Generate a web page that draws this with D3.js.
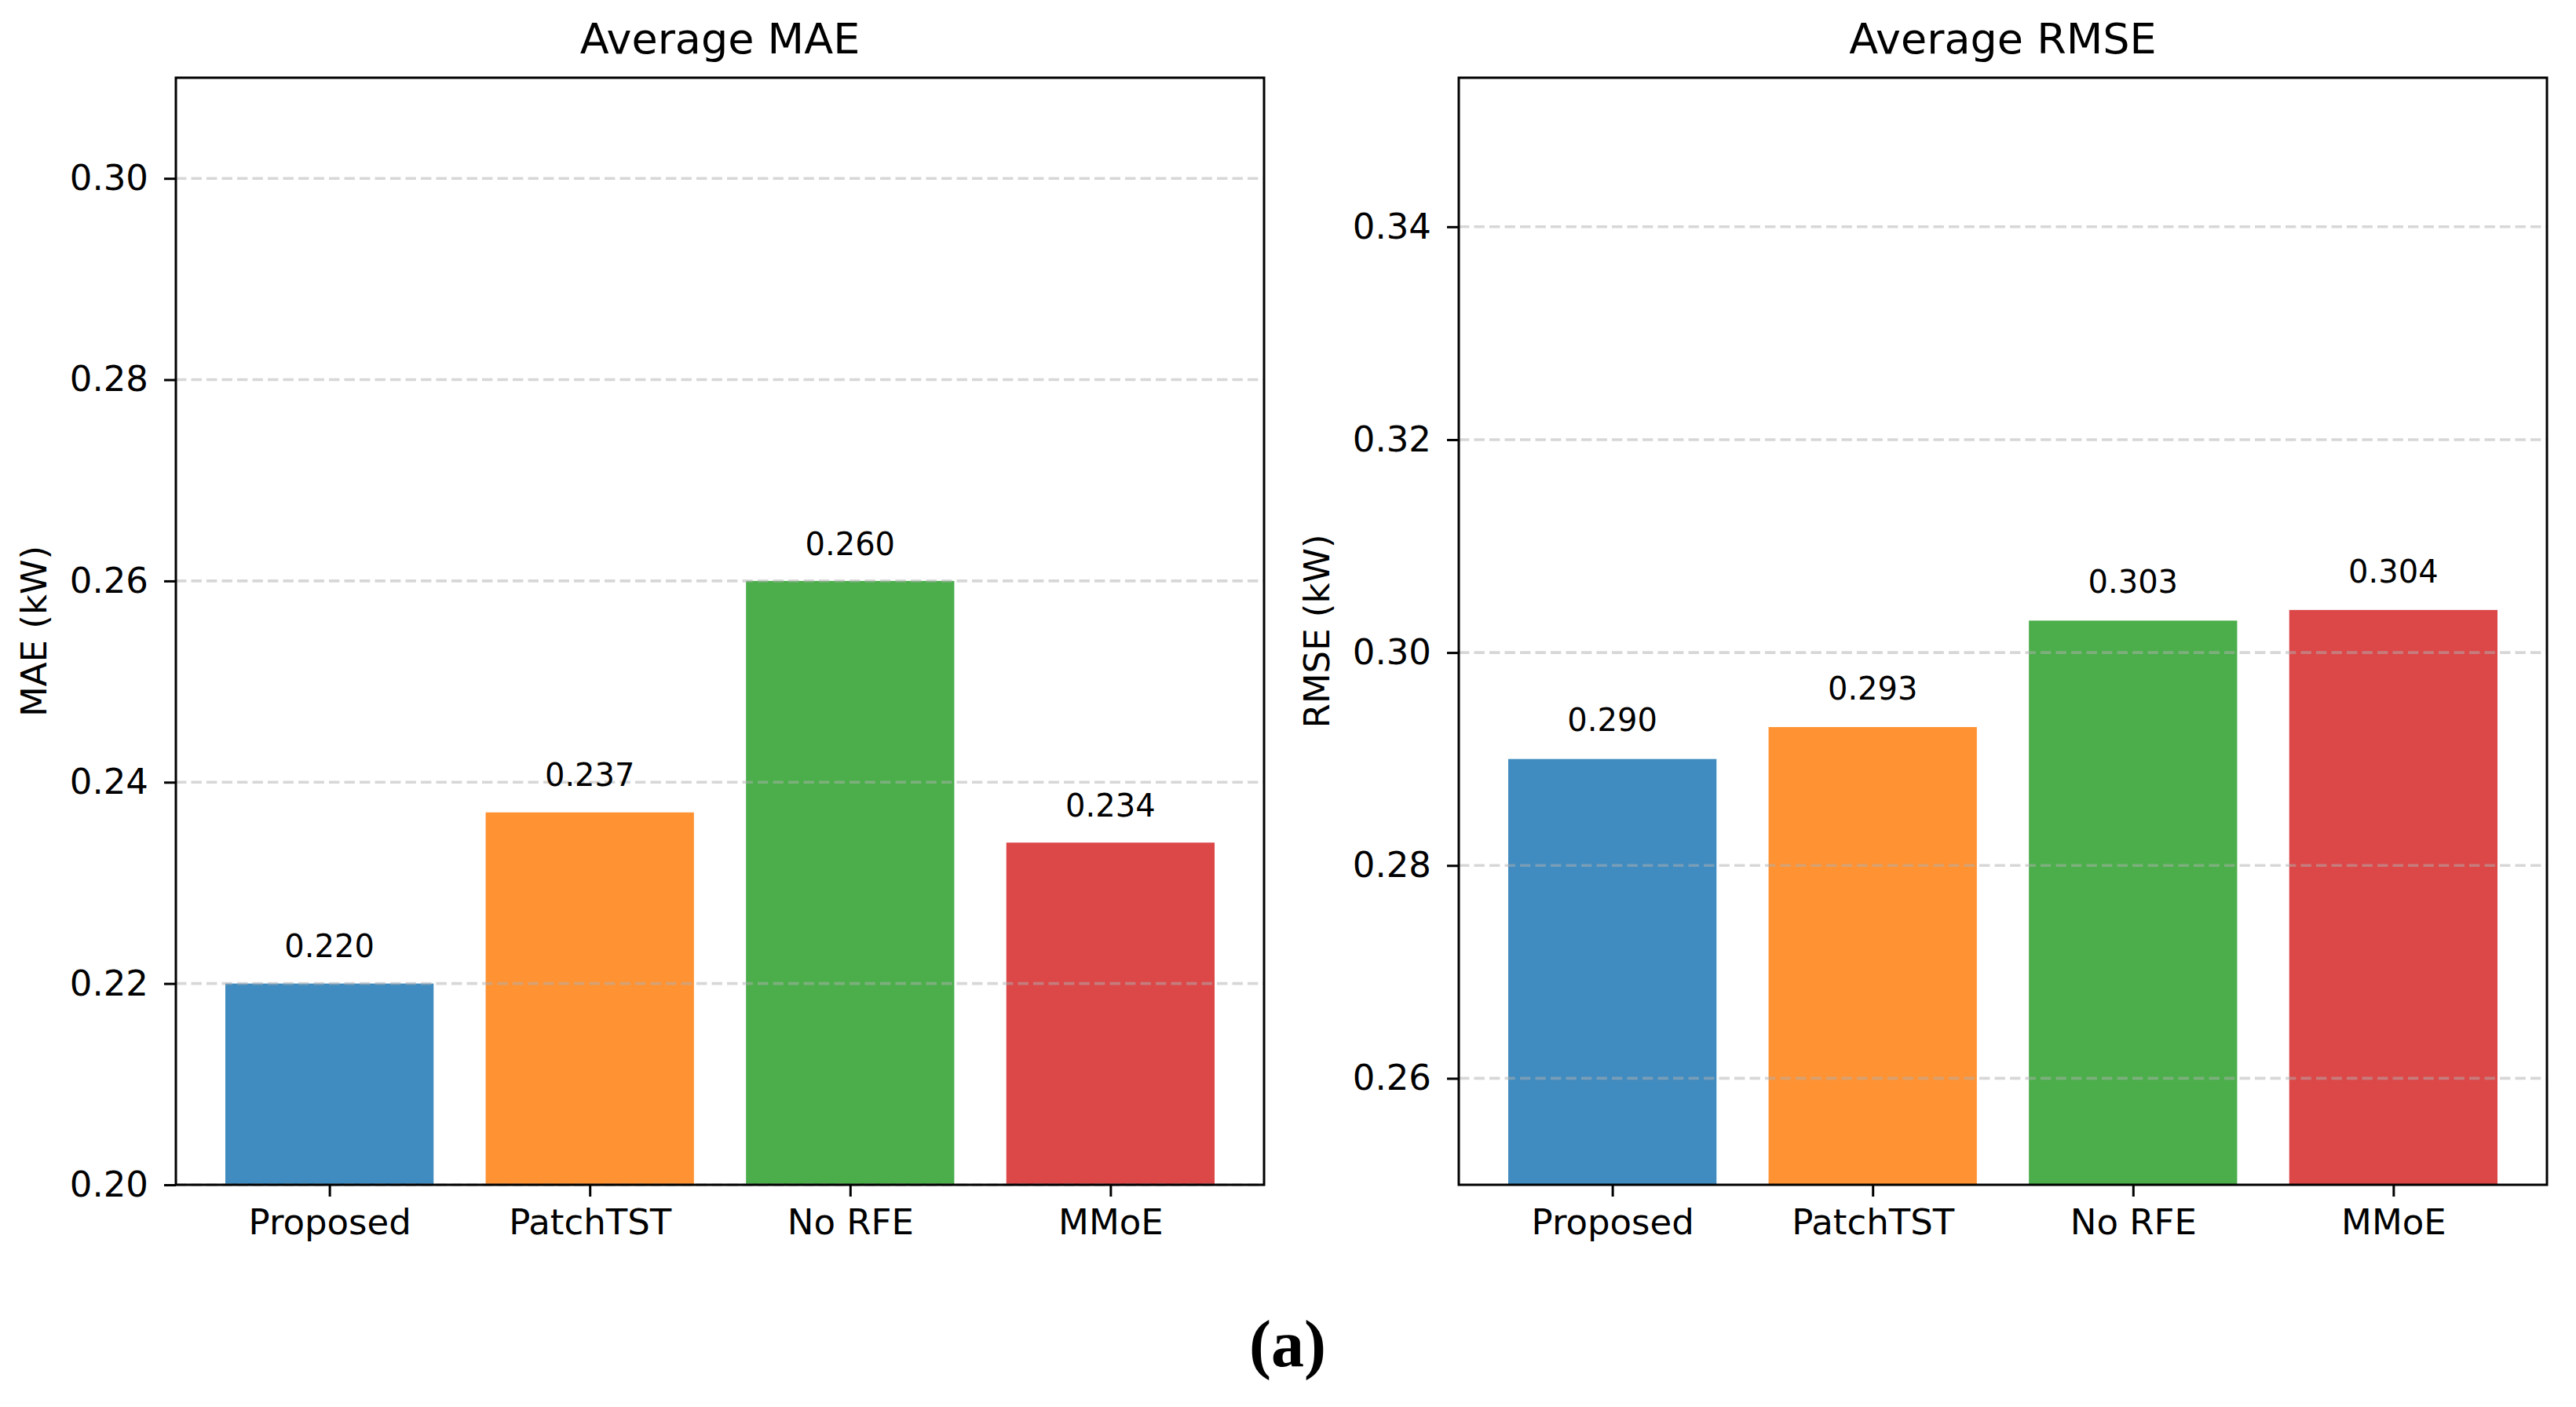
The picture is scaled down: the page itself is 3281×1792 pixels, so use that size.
<!DOCTYPE html>
<html>
<head>
<meta charset="utf-8">
<script src="https://cdn.jsdelivr.net/npm/d3@7"></script>
<style>
  html, body { margin: 0; padding: 0; background: #fff; }
  svg { display: block; }
  text { font-family: "DejaVu Sans", sans-serif; fill: #000; }
</style>
</head>
<body>
<svg id="chart" width="3281" height="1792"></svg>
<script>
// ---- Data ----
const categories = ["Proposed", "PatchTST", "No RFE", "MMoE"];
const maeValues = [0.220, 0.237, 0.260, 0.234];
const rmseValues = [0.290, 0.293, 0.303, 0.304];
const barColors = ["#1f77b4", "#ff7f0e", "#2ca02c", "#d62728"];
const maeTicks = [0.20, 0.22, 0.24, 0.26, 0.28, 0.30];
const rmseTicks = [0.26, 0.28, 0.30, 0.32, 0.34];
const maeDomain = [0.20, 0.31];
const rmseDomain = [0.25, 0.354];

const svg = d3.select("#chart");
svg.append("rect").attr("width", 3281).attr("height", 1792).attr("fill", "#fff");

const plotTop = 99, plotBottom = 1509;

function panel(opts) {
  const { left, right, title, ylabel, values, ticks, domain } = opts;
  const g = svg.append("g");
  const x = d3.scaleLinear().domain([-0.59, categories.length - 1 + 0.59]).range([left, right]);
  const y = d3.scaleLinear().domain(domain).range([plotBottom, plotTop]);
  const bw = x(0.8) - x(0);

  // bars
  g.selectAll("rect.bar").data(values).enter().append("rect")
    .attr("class", "bar")
    .attr("x", (d, i) => x(i) - bw / 2)
    .attr("width", bw)
    .attr("y", d => y(d))
    .attr("height", d => y(domain[0]) - y(d))
    .attr("fill", (d, i) => barColors[i])
    .attr("fill-opacity", 0.85);

  // grid (drawn above bars)
  g.selectAll("line.grid").data(ticks).enter().append("line")
    .attr("class", "grid")
    .attr("x1", left).attr("x2", right)
    .attr("y1", d => y(d)).attr("y2", d => y(d))
    .attr("stroke", "#b0b0b0").attr("stroke-opacity", 0.5)
    .attr("stroke-width", 3.6)
    .attr("stroke-dasharray", "13.4,6.1");

  // value labels
  g.selectAll("text.val").data(values).enter().append("text")
    .attr("class", "val")
    .attr("x", (d, i) => x(i))
    .attr("y", d => y(d + 0.0026))
    .attr("text-anchor", "middle")
    .attr("font-size", 40)
    .text(d => d.toFixed(3));

  // y axis
  const yAxis = d3.axisLeft(y).tickValues(ticks).tickFormat(d3.format(".2f")).tickSize(15).tickPadding(20);
  const ya = g.append("g").attr("transform", `translate(${left},0)`).call(yAxis);
  ya.select(".domain").remove();
  ya.selectAll(".tick line").attr("stroke", "#000").attr("stroke-width", 3);
  ya.selectAll(".tick text").attr("font-size", 45).attr("font-family", "DejaVu Sans").attr("fill", "#000");

  // x axis
  const xAxis = d3.axisBottom(x).tickValues(d3.range(categories.length)).tickFormat(i => categories[i]).tickSize(15).tickPadding(16);
  const xa = g.append("g").attr("transform", `translate(0,${plotBottom})`).call(xAxis);
  xa.select(".domain").remove();
  xa.selectAll(".tick line").attr("stroke", "#000").attr("stroke-width", 3);
  xa.selectAll(".tick text").attr("font-size", 45).attr("font-family", "DejaVu Sans").attr("fill", "#000");

  // frame
  g.append("rect")
    .attr("x", left).attr("y", plotTop)
    .attr("width", right - left).attr("height", plotBottom - plotTop)
    .attr("fill", "none").attr("stroke", "#000").attr("stroke-width", 3);

  // title
  g.append("text")
    .attr("x", (left + right) / 2).attr("y", 68)
    .attr("text-anchor", "middle").attr("font-size", 54)
    .text(title);

  // y label
  g.append("text")
    .attr("transform", `translate(${left - 165},${(plotTop + plotBottom) / 2}) rotate(-90)`)
    .attr("text-anchor", "middle").attr("font-size", 45)
    .text(ylabel);
}

panel({ left: 224, right: 1610, title: "Average MAE", ylabel: "MAE (kW)", values: maeValues, ticks: maeTicks, domain: maeDomain });
panel({ left: 1858, right: 3244, title: "Average RMSE", ylabel: "RMSE (kW)", values: rmseValues, ticks: rmseTicks, domain: rmseDomain });

// caption
svg.append("text")
  .attr("x", 1640).attr("y", 1740)
  .attr("text-anchor", "middle")
  .attr("font-weight", "bold")
  .attr("font-size", 84)
  .style("font-family", "'Liberation Serif', serif")
  .text("(a)");
</script>
</body>
</html>
